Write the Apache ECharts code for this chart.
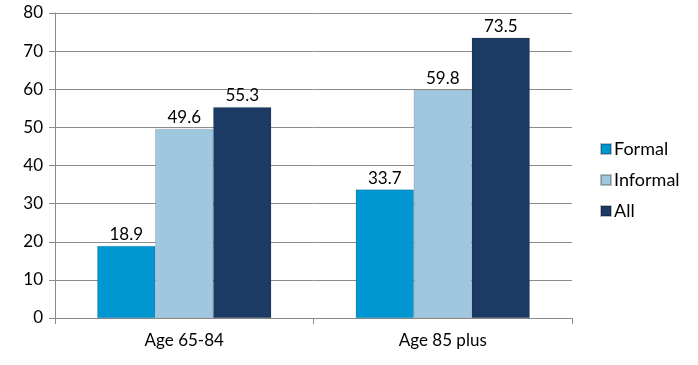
<!DOCTYPE html>
<html><head><meta charset="utf-8">
<script src="https://cdn.jsdelivr.net/npm/echarts@6/dist/echarts.min.js"></script>
<style>html,body{margin:0;padding:0;background:#fff}#c{width:698px;height:365px}</style>
</head><body><div id="c"></div>
<script>
var categories = ["Age 65-84", "Age 85 plus"];
var formal = [18.9, 33.7];
var informal = [49.6, 59.8];
var allCare = [55.3, 73.5];
var seriesNames = ["Formal", "Informal", "All"];
var colors = ["#0096d2", "#9fc8e0", "#1b3a64"];
var font = "Lato";
var chart = echarts.init(document.getElementById('c'));
function mk(name, data, color) {
  return {
    name: name, type: 'bar', data: data, barWidth: 58, barGap: '0%',
    itemStyle: { color: color, borderColor: 'rgba(0,0,0,0.25)', borderWidth: 0.5 },
    label: { show: true, position: 'top', distance: 3, color: '#000', fontFamily: font, fontSize: 17,
      formatter: function (p) { return p.value.toFixed(1); } }
  };
}
chart.setOption({
  animation: false,
  grid: { left: 55, right: 126, top: 13, bottom: 47 },
  legend: {
    orient: 'vertical', left: 595, top: 135, itemWidth: 10, itemHeight: 10, itemGap: 13, icon: 'rect',
    textStyle: { fontFamily: font, fontSize: 18, color: '#000', padding: [0, 0, 0, -2] },
    data: seriesNames
  },
  xAxis: {
    type: 'category', data: categories,
    axisLine: { lineStyle: { color: '#8c8c8c' } },
    axisTick: { show: true, length: 6, lineStyle: { color: '#8c8c8c' } },
    axisLabel: { fontFamily: font, fontSize: 17, color: '#000', margin: 14 }
  },
  yAxis: {
    type: 'value', min: 0, max: 80, interval: 10,
    axisLine: { show: true, lineStyle: { color: '#8c8c8c' } },
    axisTick: { show: true, length: 6, lineStyle: { color: '#8c8c8c' } },
    splitLine: { lineStyle: { color: '#8c8c8c' } },
    axisLabel: { fontFamily: font, fontSize: 17, color: '#000', margin: 12 }
  },
  series: [mk(seriesNames[0], formal, colors[0]), mk(seriesNames[1], informal, colors[1]), mk(seriesNames[2], allCare, colors[2])]
});
</script></body></html>
